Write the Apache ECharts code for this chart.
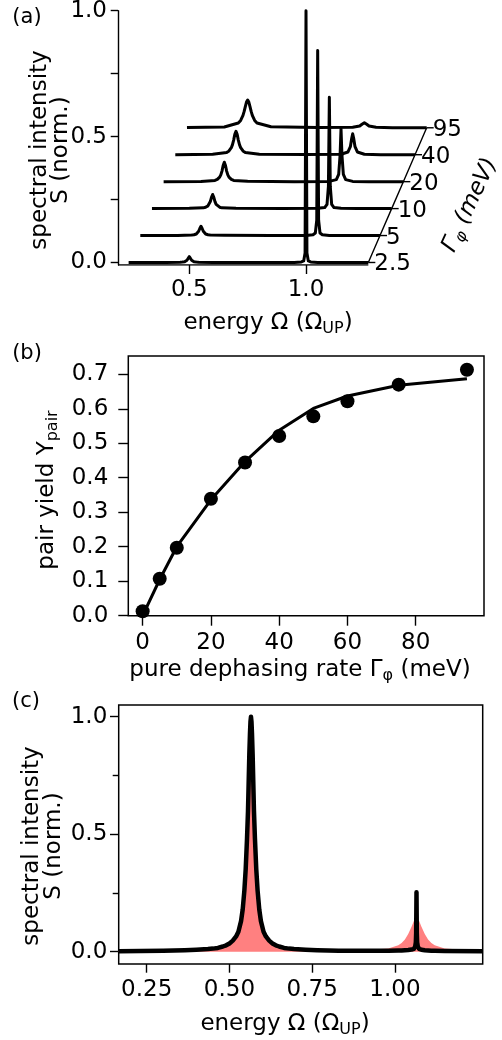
<!DOCTYPE html>
<html><head><meta charset="utf-8">
<script src="https://cdn.jsdelivr.net/npm/echarts@6.0.0/dist/echarts.min.js"></script>
<style>html,body{margin:0;padding:0;background:#fff}#c{width:502px;height:1040px}</style>
</head><body><div id="c"></div>
<script>
// ---------- Panel (a): waterfall of spectra ----------
const aGamma = ['2.5', '5', '10', '20', '40', '95'];
const aEnergy = [0.24, 0.40, 0.46, 0.47, 0.48, 0.485, 0.49, 0.495, 0.5, 0.505, 0.51, 0.515, 0.52, 0.53, 0.54, 0.60,
                 0.80, 0.95, 0.98, 0.99, 0.996, 1.0, 1.004, 1.01, 1.02, 1.05, 1.12, 1.267];
const aS_2p5 = [0, 0, 0.001, 0.0015, 0.003, 0.005, 0.009, 0.016, 0.023, 0.016, 0.009, 0.005, 0.003, 0.0015, 0.001, 0,
                0, 0, 0.002, 0.006, 0.038, 1.000, 0.038, 0.006, 0.002, 0, 0, 0];
const aS_5   = [0, 0, 0.002, 0.003, 0.006, 0.010, 0.017, 0.028, 0.037, 0.028, 0.017, 0.010, 0.006, 0.003, 0.002, 0.001,
                0, 0, 0.003, 0.010, 0.061, 0.735, 0.061, 0.010, 0.003, 0, 0, 0];
const aS_10  = [0, 0.001, 0.003, 0.0056, 0.011, 0.017, 0.028, 0.045, 0.056, 0.045, 0.028, 0.017, 0.011, 0.0056, 0.003, 0.001,
                0, 0.001, 0.004, 0.017, 0.088, 0.442, 0.088, 0.017, 0.004, 0.001, 0, 0];
const aS_20  = [0, 0.001, 0.005, 0.009, 0.018, 0.027, 0.042, 0.064, 0.077, 0.064, 0.042, 0.027, 0.018, 0.009, 0.005, 0.002,
                0, 0.001, 0.008, 0.029, 0.105, 0.210, 0.105, 0.029, 0.008, 0.001, 0, 0];
const aS_40  = [0, 0.002, 0.009, 0.015, 0.028, 0.040, 0.058, 0.081, 0.093, 0.081, 0.058, 0.040, 0.028, 0.015, 0.009, 0.002,
                0.001, 0.002, 0.011, 0.032, 0.066, 0.083, 0.066, 0.032, 0.011, 0.002, 0, 0];
const aS_95  = [0.001, 0.003, 0.019, 0.029, 0.049, 0.065, 0.084, 0.102, 0.110, 0.102, 0.084, 0.065, 0.049, 0.029, 0.019, 0.004,
                0.001, 0.002, 0.007, 0.014, 0.019, 0.020, 0.019, 0.014, 0.007, 0.002, 0, 0];
const aXTicks = [0.5, 1.0];
const aYTicks = [0, 0.25, 0.5, 0.75, 1.0];
const aYLabels = [0, 0.5, 1.0];

// ---------- Panel (b): pair yield ----------
const bGamma = [0, 5, 10, 20, 30, 40, 50, 60, 75, 95];
const bYield = [0.013, 0.107, 0.197, 0.339, 0.444, 0.521, 0.578, 0.622, 0.670, 0.713];
const bFitGamma = [0, 5, 10, 20, 30, 40, 50, 60, 75, 95];
const bFitYield = [0.0, 0.105, 0.200, 0.336, 0.447, 0.538, 0.601, 0.637, 0.668, 0.687];
const bXTicks = [0, 20, 40, 60, 80];
const bYTicks = [0, 0.1, 0.2, 0.3, 0.4, 0.5, 0.6, 0.7];

// ---------- Panel (c): single spectrum ----------
const cEnergy = [0.165, 0.30, 0.365, 0.40, 0.435, 0.45, 0.465, 0.48, 0.49, 0.50, 0.51, 0.52,
                 0.527, 0.535, 0.54, 0.545, 0.549, 0.553, 0.556, 0.558, 0.56, 0.562, 0.5635, 0.565,
                 0.5665, 0.568, 0.57, 0.572, 0.574, 0.577, 0.581, 0.585, 0.59, 0.595, 0.603,
                 0.61, 0.62, 0.63, 0.64, 0.65, 0.665, 0.68, 0.695, 0.73, 0.765, 0.83,
                 0.90, 0.98, 1.01, 1.02, 1.03, 1.04, 1.05, 1.057, 1.061, 1.063, 1.064, 1.065,
                 1.066, 1.067, 1.069, 1.073, 1.08, 1.09, 1.10, 1.11, 1.12, 1.15, 1.265];
const cBlack = [0.002, 0.004, 0.006, 0.008, 0.011, 0.013, 0.016, 0.022, 0.027, 0.035, 0.047, 0.065,
                0.085, 0.13, 0.18, 0.26, 0.35, 0.48, 0.60, 0.72, 0.84, 0.93, 0.98, 1.0,
                0.98, 0.93, 0.84, 0.72, 0.60, 0.48, 0.35, 0.26, 0.18, 0.13, 0.085,
                0.065, 0.047, 0.035, 0.027, 0.022, 0.016, 0.013, 0.011, 0.008, 0.006, 0.004,
                0.004, 0.004, 0.005, 0.005, 0.006, 0.007, 0.009, 0.012, 0.022, 0.040, 0.080, 0.253,
                0.080, 0.040, 0.022, 0.012, 0.008, 0.006, 0.005, 0.004, 0.004, 0.003, 0.002];
const cRed   = [0.002, 0.004, 0.006, 0.008, 0.011, 0.013, 0.016, 0.022, 0.027, 0.035, 0.047, 0.065,
                0.085, 0.13, 0.18, 0.26, 0.35, 0.48, 0.60, 0.72, 0.84, 0.93, 0.98, 1.0,
                0.98, 0.93, 0.84, 0.72, 0.60, 0.48, 0.35, 0.26, 0.18, 0.13, 0.085,
                0.065, 0.047, 0.035, 0.027, 0.022, 0.016, 0.013, 0.011, 0.008, 0.006, 0.005,
                0.006, 0.013, 0.027, 0.037, 0.052, 0.075, 0.106, 0.131, 0.137, 0.139, 0.140, 0.140,
                0.140, 0.139, 0.137, 0.131, 0.106, 0.075, 0.052, 0.037, 0.027, 0.013, 0.003];
const cXTicks = [0.25, 0.50, 0.75, 1.00];
const cYMajor = [0, 0.5, 1.0];
const cYMinor = [0.25, 0.75];

// ---------- build ----------
const FONT = 'DejaVu Sans';
const FS = 23;
const chart = echarts.init(document.getElementById('c'), null, {renderer: 'canvas'});
const dx = 0.05, dy = 0.107;            // waterfall offsets per curve
const aXMin = 0.1945, aYMin = -0.01;     // axis extents of panel (a)
const aSpectra = [aS_2p5, aS_5, aS_10, aS_20, aS_40, aS_95];

function lbl(extra) {
  return Object.assign({color: '#000', fontSize: FS, fontFamily: FONT}, extra);
}

const series = [];
const eEnd = aEnergy[aEnergy.length - 1];
// x axis line of panel (a), only under the front spectrum
series.push({
  type: 'line', xAxisIndex: 0, yAxisIndex: 0, symbol: 'none', silent: true,
  data: [[aXMin, aYMin], [eEnd, aYMin]], lineStyle: {color: '#000', width: 1.4}
});
aSpectra.forEach((vals, i) => {
  series.push({
    type: 'line', xAxisIndex: 0, yAxisIndex: 0, clip: false, symbol: 'none', silent: true,
    data: aEnergy.map((e, j) => [e + i * dx, vals[j] + i * dy]),
    lineStyle: {color: '#000', width: 3, join: 'round'}, z: 10 - i
  });
});
// slanted Gamma axis
series.push({
  type: 'line', xAxisIndex: 0, yAxisIndex: 0, clip: false, silent: true,
  data: aGamma.map((g, i) => [eEnd + i * dx, i * dy]),
  lineStyle: {color: '#000', width: 1.4},
  symbol: 'rect', symbolSize: [7, 1.4], symbolOffset: [3.5, 0], showSymbol: true,
  itemStyle: {color: '#000'},
  label: lbl({show: true, position: 'right', distance: 0, offset: [-1, 2],
              formatter: p => aGamma[p.dataIndex]})
});
series.push({
  type: 'line', xAxisIndex: 1, yAxisIndex: 1, symbol: 'none', silent: true,
  data: bFitGamma.map((g, i) => [g, bFitYield[i]]),
  lineStyle: {color: '#000', width: 3, join: 'round'}
});
series.push({
  type: 'scatter', xAxisIndex: 1, yAxisIndex: 1, silent: true, symbolSize: 14,
  data: bGamma.map((g, i) => [g, bYield[i]]), itemStyle: {color: '#000', opacity: 1}
});
series.push({
  type: 'line', xAxisIndex: 2, yAxisIndex: 2, symbol: 'none', silent: true,
  data: cEnergy.map((e, i) => [e, cRed[i]]),
  lineStyle: {width: 0, color: '#ff8080'}, areaStyle: {color: '#ff8080', opacity: 1}
});
series.push({
  type: 'line', xAxisIndex: 2, yAxisIndex: 2, symbol: 'none', silent: true,
  data: cEnergy.map((e, i) => [e, cBlack[i]]),
  lineStyle: {color: '#000', width: 4.5, join: 'round'}
});

function axis(grid, min, max, ticks, labels, opts) {
  opts = opts || {};
  return {
    type: 'value', gridIndex: grid, min: min, max: max, position: opts.pos,
    splitLine: {show: false},
    axisLine: {show: !!opts.line, onZero: false, lineStyle: {color: '#000', width: 1.4}},
    axisTick: {show: true, customValues: ticks, length: opts.tl || 8,
               lineStyle: {color: '#000', width: 1.4}},
    axisLabel: labels ? lbl({customValues: labels, margin: opts.margin || 12,
               formatter: v => v.toFixed(opts.dec == null ? 1 : opts.dec)}) : {show: false}
  };
}

const sub = {fontSize: 16, fontFamily: FONT, padding: [12, 0, 0, 0], color: '#000'};
function txt(x, y, text, rot, extra) {
  return {
    type: 'text', x: x, y: y, rotation: rot || 0, silent: true,
    style: Object.assign({text: text, fill: '#000', fontSize: FS, fontFamily: FONT,
      align: 'center', verticalAlign: 'middle', rich: {s: sub}}, extra || {})
  };
}

const option = {
  animation: false,
  backgroundColor: '#fff',
  grid: [
    {left: 118, top: 10.7, width: 328.05, height: 254.3, outerBoundsMode: 'none'},
    {left: 128.3, top: 356, width: 355.7, height: 259.7, show: true, borderColor: '#000',
     borderWidth: 1.5, backgroundColor: 'transparent', outerBoundsMode: 'none'},
    {left: 118.7, top: 705, width: 364, height: 259, show: true, borderColor: '#000',
     borderWidth: 1.5, backgroundColor: 'transparent', outerBoundsMode: 'none'}
  ],
  xAxis: [
    axis(0, aXMin, 1.60, aXTicks, aXTicks, {tl: 9, margin: 14}),
    axis(1, -4.2, 100, bXTicks, bXTicks, {tl: 10, margin: 16, dec: 0}),
    axis(2, 0.1654, 1.265, cXTicks, cXTicks, {tl: 8.7, margin: 14.5, dec: 2})
  ],
  yAxis: [
    axis(0, aYMin, 1.0, aYTicks, aYLabels, {line: true, tl: 7.3, margin: 11, pos: 'left'}),
    axis(1, 0, 0.753, bYTicks, bYTicks, {tl: 10, margin: 20, pos: 'left'}),
    axis(2, -0.0525, 1.05, cYMajor, cYMajor, {tl: 8.7, margin: 11.4, pos: 'left'}),
    axis(2, -0.0525, 1.05, cYMinor, null, {tl: 6, pos: 'left'})
  ],
  series: series,
  graphic: [
    txt(27, 18, '(a)', 0, {fontSize: 21}),
    txt(27, 354, '(b)', 0, {fontSize: 21}),
    txt(26, 702, '(c)', 0, {fontSize: 21}),
    txt(51, 150, 'spectral intensity\nS (norm.)', Math.PI / 2, {lineHeight: 21}),
    txt(268, 323, 'energy Ω (Ω{s|UP})'),
    txt(470, 205, 'Γ{si|φ} (meV)', 65 * Math.PI / 180,
        {fontStyle: 'italic', rich: {si: Object.assign({}, sub, {fontStyle: 'italic'})}}),
    txt(47, 490, 'pair yield Y{s|pair}', Math.PI / 2),
    txt(300, 670, 'pure dephasing rate Γ{s|φ} (meV)'),
    txt(43, 846, 'spectral intensity\nS (norm.)', Math.PI / 2, {lineHeight: 22}),
    txt(285, 1024, 'energy Ω (Ω{s|UP})')
  ]
};
chart.setOption(option);
</script>
</body></html>
